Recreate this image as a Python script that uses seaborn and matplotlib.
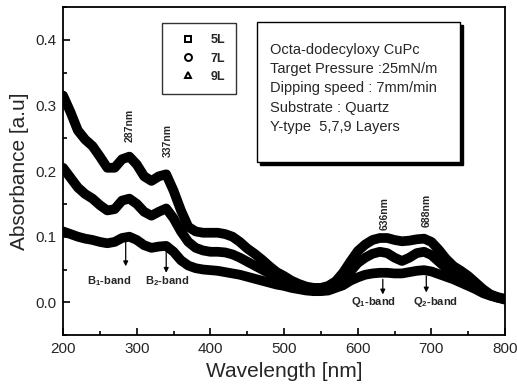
import numpy as np
import pandas as pd
import matplotlib
matplotlib.use("Agg")
import matplotlib.pyplot as plt
from matplotlib.lines import Line2D
from matplotlib.patches import Rectangle
from matplotlib.ticker import MultipleLocator
import seaborn as sns

# ---------------- data ----------------
wavelength = list(range(200, 801, 10))

abs_9L = [0.315, 0.290, 0.262, 0.248, 0.238, 0.222, 0.205, 0.205, 0.218, 0.222,
          0.210, 0.192, 0.185, 0.192, 0.195, 0.170, 0.140, 0.115, 0.108, 0.106,
          0.106, 0.106, 0.104, 0.100, 0.092, 0.082, 0.074, 0.065, 0.055, 0.046,
          0.040, 0.033, 0.028, 0.024, 0.022, 0.022, 0.025, 0.032, 0.045, 0.062,
          0.078, 0.088, 0.095, 0.098, 0.098, 0.095, 0.093, 0.094, 0.096, 0.097,
          0.092, 0.080, 0.066, 0.055, 0.048, 0.040, 0.030, 0.020, 0.012, 0.008,
          0.005]

abs_7L = [0.205, 0.190, 0.175, 0.165, 0.158, 0.148, 0.140, 0.142, 0.155, 0.158,
          0.150, 0.138, 0.132, 0.138, 0.143, 0.128, 0.108, 0.092, 0.083, 0.079,
          0.077, 0.077, 0.076, 0.073, 0.068, 0.062, 0.056, 0.050, 0.044, 0.038,
          0.033, 0.029, 0.025, 0.022, 0.020, 0.020, 0.022, 0.027, 0.035, 0.047,
          0.060, 0.068, 0.074, 0.077, 0.075, 0.068, 0.063, 0.068, 0.075, 0.077,
          0.072, 0.062, 0.052, 0.045, 0.040, 0.034, 0.026, 0.018, 0.011, 0.007,
          0.004]

abs_5L = [0.108, 0.104, 0.100, 0.097, 0.095, 0.092, 0.090, 0.092, 0.098, 0.100,
          0.095, 0.087, 0.083, 0.085, 0.086, 0.077, 0.064, 0.056, 0.052, 0.050,
          0.049, 0.048, 0.046, 0.044, 0.042, 0.039, 0.036, 0.033, 0.030, 0.027,
          0.025, 0.022, 0.020, 0.018, 0.017, 0.017, 0.018, 0.022, 0.026, 0.033,
          0.038, 0.042, 0.044, 0.045, 0.045, 0.044, 0.044, 0.046, 0.048, 0.049,
          0.047, 0.043, 0.039, 0.035, 0.030, 0.025, 0.020, 0.014, 0.010, 0.007,
          0.005]

series_labels = ["5L", "7L", "9L"]
series_markers = ["s", "o", "^"]

peak_labels = ["287nm", "337nm", "636nm", "688nm"]
peak_x = [290, 342, 637, 694]
peak_y = [0.245, 0.222, 0.110, 0.115]

band_labels = ["B$_1$-band", "B$_2$-band", "Q$_1$-band", "Q$_2$-band"]
band_arrow_x = [285, 340, 634, 693]
band_arrow_top = [0.092, 0.084, 0.035, 0.040]
band_arrow_bot = [0.055, 0.045, 0.012, 0.015]
band_text_x = [262, 341, 622, 706]
band_text_y = [0.032, 0.032, 0.000, 0.000]

info_lines = ["Octa-dodecyloxy CuPc",
              "Target Pressure :25mN/m",
              "Dipping speed : 7mm/min",
              "Substrate : Quartz",
              "Y-type  5,7,9 Layers"]

df = pd.DataFrame({
    "wavelength": wavelength * 3,
    "absorbance": abs_5L + abs_7L + abs_9L,
    "layers": ["5L"] * len(wavelength) + ["7L"] * len(wavelength) + ["9L"] * len(wavelength),
})

# ---------------- style ----------------
sns.set_theme(style="ticks")
plt.rcParams["font.family"] = ["Liberation Sans", "DejaVu Sans"]
plt.rcParams["mathtext.fontset"] = "custom"
plt.rcParams["mathtext.rm"] = "Liberation Sans:bold"
plt.rcParams["mathtext.it"] = "Liberation Sans:bold"

fig = plt.figure(figsize=(5.17, 3.87), dpi=100)
ax = fig.add_axes([0.122, 0.134, 0.855, 0.848])

sns.lineplot(data=df, x="wavelength", y="absorbance", hue="layers",
             palette=["black", "black", "black"], linewidth=7.0,
             legend=False, ax=ax, solid_capstyle="round",
             solid_joinstyle="round")

ax.set_xlim(200, 800)
ax.set_ylim(-0.05, 0.45)
ax.xaxis.set_major_locator(MultipleLocator(100))
ax.xaxis.set_minor_locator(MultipleLocator(50))
ax.yaxis.set_major_locator(MultipleLocator(0.1))
ax.yaxis.set_minor_locator(MultipleLocator(0.05))
ax.set_yticks([0.0, 0.1, 0.2, 0.3, 0.4])
ax.set_yticklabels(["0.0", "0.1", "0.2", "0.3", "0.4"])
ax.tick_params(which="both", direction="in", color="black", width=1.2)
ax.tick_params(which="major", length=5, labelsize=11, pad=5)
ax.tick_params(which="minor", length=3)
for sp in ax.spines.values():
    sp.set_color("black")
    sp.set_linewidth(1.3)

ax.set_xlabel("Wavelength [nm]", fontsize=15, labelpad=4)
ax.set_ylabel("Absorbance [a.u]", fontsize=15, labelpad=4)

# legend
handles = [Line2D([], [], linestyle="none", marker=m, markersize=5,
                  markerfacecolor="white", markeredgecolor="black",
                  markeredgewidth=1.4, label=l)
           for m, l in zip(series_markers, series_labels)]
leg = ax.legend(handles=handles, loc="upper left", bbox_to_anchor=(0.224, 0.951),
                frameon=True, fancybox=False, fontsize=9, handlelength=2.36,
                handletextpad=0.6, labelspacing=0.5, borderpad=0.9,
                borderaxespad=0)
leg.get_frame().set_edgecolor("black")
leg.get_frame().set_linewidth(1.0)
for t in leg.get_texts():
    t.set_fontweight("bold")

# info box with shadow
x0, x1, yb, yt = 0.439, 0.898, 0.527, 0.954
ax.add_patch(Rectangle((x0 + 0.006, yb - 0.008), x1 - x0, yt - yb,
                       transform=ax.transAxes, facecolor="black",
                       edgecolor="black", zorder=5))
ax.add_patch(Rectangle((x0, yb), x1 - x0, yt - yb, transform=ax.transAxes,
                       facecolor="white", edgecolor="black", linewidth=1.0,
                       zorder=6))
line_y = [0.869, 0.812, 0.753, 0.693, 0.633]
for txt, yy in zip(info_lines, line_y):
    ax.text(0.468, yy, txt, transform=ax.transAxes, fontsize=10.5,
            va="center", ha="left", zorder=7)

# peak labels (rotated)
for txt, xx, yy in zip(peak_labels, peak_x, peak_y):
    ax.text(xx, yy, txt, rotation=90, ha="center", va="bottom",
            fontsize=7.5, fontweight="bold")

# band arrows and labels
for lab, ax_x, yt_, yb_, tx, ty in zip(band_labels, band_arrow_x, band_arrow_top,
                                       band_arrow_bot, band_text_x, band_text_y):
    ax.annotate("", xy=(ax_x, yb_), xytext=(ax_x, yt_),
                arrowprops=dict(arrowstyle="-|>", color="black", lw=0.9,
                                mutation_scale=7, shrinkA=0, shrinkB=0))
    ax.text(tx, ty, lab, ha="center", va="center", fontsize=8,
            fontweight="bold")

fig.savefig("out.png", dpi=100)
